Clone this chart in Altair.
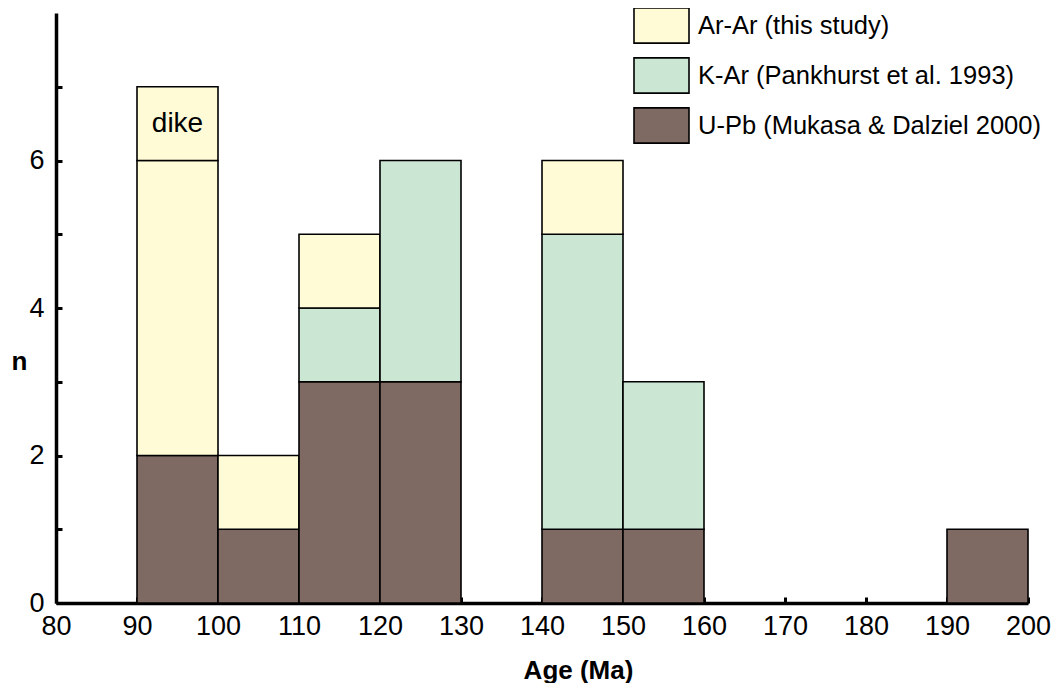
import altair as alt
import pandas as pd

# ---- data ----
bin_start = [90, 100, 110, 120, 140, 150, 190]
bin_end = [100, 110, 120, 130, 150, 160, 200]
upb = [2, 1, 3, 3, 1, 1, 1]          # U-Pb (Mukasa & Dalziel 2000)
kar = [0, 0, 1, 3, 4, 2, 0]          # K-Ar (Pankhurst et al. 1993)
arar = [4, 1, 1, 0, 1, 0, 0]         # Ar-Ar (this study)
arar_dike = [1, 0, 0, 0, 0, 0, 0]    # Ar-Ar dike sample (separate box)

methods = ["Ar-Ar (this study)", "K-Ar (Pankhurst et al. 1993)", "U-Pb (Mukasa & Dalziel 2000)"]
colors = ["#FFFBD7", "#CCE6D4", "#7E6A63"]

x_ticks = list(range(80, 201, 10))
y_labels = [0, 2, 4, 6]
y_ticks = [0, 1, 2, 3, 4, 5, 6, 7]

dike_label = ["dike"]
dike_x = [95]
dike_y = [6.5]

# ---- build stacked segments ----
rows = []
for i in range(len(bin_start)):
    base = 0
    for m, vals in [(methods[2], upb), (methods[1], kar), (methods[0], arar), (methods[0], arar_dike)]:
        v = vals[i]
        if v > 0:
            rows.append({"x0": bin_start[i], "x1": bin_end[i], "y0": base, "y1": base + v, "method": m})
            base += v
df = pd.DataFrame(rows)
df_text = pd.DataFrame({"label": dike_label, "x": dike_x, "y": dike_y})

FONT = "Liberation Sans"
FS = 27
xscale = alt.Scale(domain=[80, 200], nice=False, zero=False)
yscale = alt.Scale(domain=[0, 8], nice=False)

rect_path = "M-1,-0.64H1V0.64H-1Z"

bars = alt.Chart(df).mark_bar(stroke="black", strokeWidth=1.6, opacity=1).encode(
    x=alt.X("x0:Q", scale=xscale,
            axis=alt.Axis(values=x_ticks, tickSize=0, grid=False, labelFontSize=FS, labelColor="black",
                          labelPadding=10, domainColor="black", domainWidth=3.5, labelFlush=False,
                          title="Age (Ma)", titleFontSize=26, titleFontWeight="bold", titleColor="black",
                          titleX=522, titleY=75, titleAnchor="middle", titleBaseline="alphabetic")),
    x2="x1:Q",
    y=alt.Y("y0:Q", scale=yscale,
            axis=alt.Axis(values=y_labels, tickSize=0, grid=False, labelFontSize=FS, labelColor="black",
                          labelPadding=12, domainColor="black", domainWidth=3.5, labelFlush=False,
                          title="n", titleAngle=0, titleFontSize=26, titleFontWeight="bold",
                          titleColor="black", titleX=-37, titleY=348, titleAlign="center",
                          titleBaseline="middle")),
    y2="y1:Q",
    fill=alt.Fill("method:N", scale=alt.Scale(domain=methods, range=colors),
                  legend=alt.Legend(orient="none", legendX=577, legendY=-16, title=None,
                                    symbolType=rect_path, symbolSize=3025, symbolStrokeColor="black",
                                    symbolStrokeWidth=1.6, symbolOpacity=1, labelFontSize=25.5,
                                    labelColor="black", labelOffset=8, rowPadding=0,
                                    labelLimit=500)),
)

text = alt.Chart(df_text).mark_text(fontSize=28, font=FONT, color="black").encode(
    x=alt.X("x:Q", scale=xscale,
            axis=alt.Axis(orient="bottom", offset=-6, values=x_ticks, tickSize=6, tickWidth=3,
                          tickColor="black", domain=False, labels=False, grid=False, title=None)),
    y=alt.Y("y:Q", scale=yscale,
            axis=alt.Axis(orient="left", offset=-6, values=y_ticks, tickSize=6, tickWidth=3,
                          tickColor="black", domain=False, labels=False, grid=False, title=None)),
    text="label:N",
)

chart = alt.layer(bars, text).resolve_axis(x="independent", y="independent").properties(
    width=972, height=590,
    autosize=alt.AutoSizeParams(type="none"),
    padding={"left": 48, "top": 5, "right": 24, "bottom": 80},
).configure(font=FONT).configure_view(stroke=None).configure_axis(labelFont=FONT, titleFont=FONT).configure_legend(labelFont=FONT)

chart.save("out.html", embed_options={"renderer": "svg", "actions": False})
